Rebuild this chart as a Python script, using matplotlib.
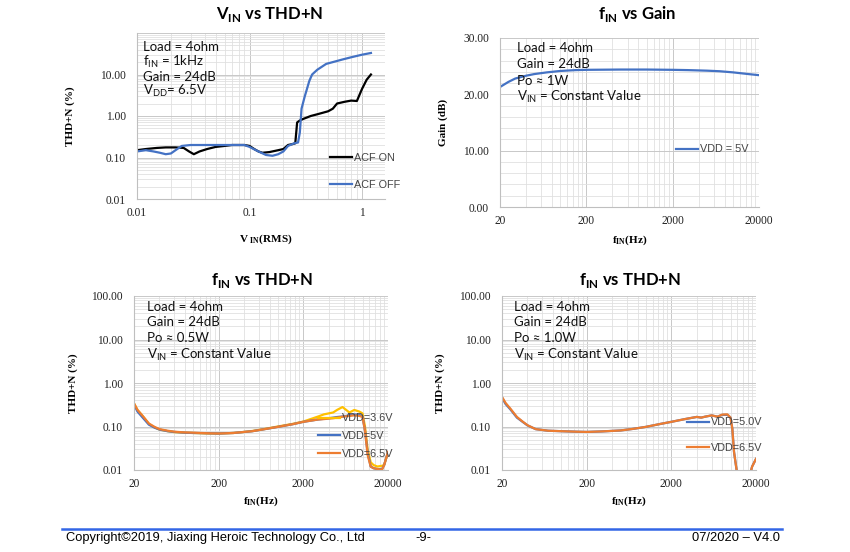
import numpy as np
import matplotlib.pyplot as plt
import matplotlib as mpl
from matplotlib.ticker import FixedLocator, FuncFormatter, MultipleLocator, NullFormatter

mpl.rcParams['mathtext.fontset'] = 'custom'
mpl.rcParams['mathtext.rm'] = 'Lato'
mpl.rcParams['mathtext.bf'] = 'Lato:bold'
mpl.rcParams['mathtext.sf'] = 'Liberation Serif:bold'

#panel 1 : VIN vs THD+N
vin_on = [0.01, 0.012, 0.015, 0.018, 0.022, 0.026, 0.029, 0.032, 0.036, 0.042, 0.05, 0.06,
          0.07, 0.08, 0.09, 0.1, 0.11, 0.12, 0.13, 0.15, 0.18, 0.2, 0.22, 0.24, 0.255,
          0.265, 0.28, 0.3, 0.35, 0.4, 0.5, 0.55, 0.6, 0.7, 0.8, 0.9, 1.0, 1.1, 1.2]
thd_on = [0.15, 0.16, 0.17, 0.175, 0.175, 0.17, 0.14, 0.12, 0.14, 0.16, 0.18, 0.19,
          0.2, 0.2, 0.2, 0.19, 0.16, 0.14, 0.13, 0.135, 0.15, 0.16, 0.2, 0.21, 0.22,
          0.7, 0.78, 0.85, 1.0, 1.1, 1.3, 1.5, 2.0, 2.2, 2.35, 2.3, 4.5, 7.5, 10.0]
vin_off = [0.01, 0.012, 0.014, 0.016, 0.018, 0.02, 0.022, 0.025, 0.03, 0.04, 0.06, 0.09,
           0.1, 0.12, 0.14, 0.16, 0.18, 0.2, 0.22, 0.25, 0.27, 0.28, 0.29, 0.31, 0.32,
           0.34, 0.36, 0.4, 0.48, 0.67, 0.8, 1.0, 1.2]
thd_off = [0.14, 0.15, 0.14, 0.13, 0.12, 0.125, 0.15, 0.19, 0.2, 0.2, 0.2, 0.2,
           0.18, 0.14, 0.115, 0.11, 0.12, 0.14, 0.19, 0.22, 0.23, 0.4, 1.5, 3.0, 4.0,
           7.0, 10.0, 13.0, 18.0, 23.0, 26.0, 30.0, 33.0]

#panel 2 : fIN vs Gain
f_gain = [20, 25, 30, 40, 50, 70, 100, 150, 200, 500, 1000, 2000, 3000, 5000, 7000, 10000, 15000, 20000]
gain_5v = [21.3, 22.2, 22.8, 23.3, 23.6, 23.9, 24.15, 24.3, 24.35, 24.4, 24.4, 24.35, 24.3,
           24.2, 24.1, 23.9, 23.6, 23.4]

#panel 3 : fIN vs THD+N, Po 0.5W
f_p3 = [20, 22, 25, 30, 35, 40, 50, 60, 80, 100, 150, 200, 300, 400, 500, 700, 1000, 1500,
        2000, 3000, 3500, 4500, 5000, 5800, 7000, 8000, 9200, 10000, 10700, 11500, 12500,
        13500, 15000, 17000, 18000, 20000]
thd_p3_36 = [0.34, 0.24, 0.18, 0.115, 0.095, 0.085, 0.078, 0.074, 0.072, 0.071, 0.069, 0.069,
             0.071, 0.075, 0.079, 0.088, 0.1, 0.115, 0.13, 0.17, 0.19, 0.21, 0.24, 0.28, 0.21,
             0.24, 0.22, 0.2, 0.1, 0.03, 0.015, 0.013, 0.012, 0.0125, 0.013, 0.025]
thd_p3_5 = [0.32, 0.22, 0.165, 0.11, 0.094, 0.085, 0.078, 0.075, 0.072, 0.071, 0.07, 0.069,
            0.071, 0.075, 0.078, 0.087, 0.098, 0.113, 0.128, 0.145, 0.15, 0.16, 0.165, 0.17,
            0.18, 0.19, 0.185, 0.17, 0.08, 0.025, 0.012, 0.011, 0.0105, 0.0105, 0.013, 0.026]
thd_p3_65 = [0.34, 0.24, 0.18, 0.117, 0.098, 0.087, 0.08, 0.076, 0.073, 0.072, 0.07, 0.069,
             0.071, 0.075, 0.078, 0.087, 0.098, 0.113, 0.128, 0.145, 0.148, 0.155, 0.16, 0.168,
             0.175, 0.18, 0.175, 0.165, 0.08, 0.022, 0.012, 0.011, 0.0105, 0.0102, 0.013, 0.026]

#panel 4 : fIN vs THD+N, Po 1.0W
f_p4 = [20, 22, 25, 30, 35, 40, 50, 70, 100, 150, 200, 300, 500, 700, 1000, 1500, 2000, 3000,
        4000, 4500, 5000, 6000, 7000, 8000, 9200, 10000, 10500, 11000, 12000, 13000, 15000,
        16000, 17000, 18000, 20000]
thd_p4_5 = [0.46, 0.33, 0.25, 0.16, 0.128, 0.106, 0.087, 0.08, 0.078, 0.076, 0.075, 0.077,
            0.081, 0.088, 0.098, 0.115, 0.128, 0.15, 0.166, 0.16, 0.168, 0.18, 0.168, 0.185,
            0.185, 0.16, 0.09, 0.026, 0.008, 0.006, 0.005, 0.006, 0.008, 0.012, 0.018]
thd_p4_65 = [0.48, 0.35, 0.26, 0.166, 0.13, 0.107, 0.087, 0.08, 0.078, 0.076, 0.075, 0.077,
             0.081, 0.088, 0.098, 0.115, 0.128, 0.15, 0.166, 0.16, 0.168, 0.18, 0.168, 0.188,
             0.19, 0.16, 0.09, 0.026, 0.008, 0.006, 0.005, 0.006, 0.008, 0.012, 0.018]

f_ticks = [20, 200, 2000, 20000]
thd_ticks = [0.01, 0.1, 1, 10, 100]

BLUE = '#4472C4'
ORANGE = '#ED7D31'
YELLOW = '#FFC000'
MAJ = '#c8c8c8'
MIN = '#e0e0e0'
SERIF = 'Liberation Serif'
SANS = 'Liberation Sans'

fig = plt.figure(figsize=(8.5, 5.52), dpi=100)


def style(ax):
    for s in ['top', 'right']:
        ax.spines[s].set_visible(False)
    for s in ['left', 'bottom']:
        ax.spines[s].set_color('#bfbfbf')
        ax.spines[s].set_linewidth(0.8)
    ax.grid(True, which='major', color=MAJ, lw=0.7)
    ax.grid(True, which='minor', color=MIN, lw=0.6)
    ax.set_axisbelow(True)
    ax.tick_params(which='both', length=0, labelsize=8.3, colors='#222222')
    ax.tick_params(axis='y', pad=8)
    ax.tick_params(axis='x', pad=6)
    for lab in ax.get_xticklabels() + ax.get_yticklabels():
        lab.set_fontfamily(SERIF)


def freq_axis(ax):
    ax.set_xscale('log')
    ax.set_xlim(20, 20000)
    ax.xaxis.set_major_locator(FixedLocator(f_ticks))
    ax.xaxis.set_major_formatter(FuncFormatter(lambda v, p: '%d' % round(v)))
    minors = [f * n for f in f_ticks[:-1] for n in range(2, 10)]
    ax.xaxis.set_minor_locator(FixedLocator(minors))
    ax.xaxis.set_minor_formatter(NullFormatter())


def thd_axis(ax, labels):
    ax.set_yscale('log')
    ax.set_ylim(0.01, 100)
    ax.yaxis.set_major_locator(FixedLocator(thd_ticks))
    ax.yaxis.set_major_formatter(FuncFormatter(lambda v, p: ('%.2f' % v) if v in labels else ''))
    minors = [d * n for d in thd_ticks[:-1] for n in range(2, 10)]
    ax.yaxis.set_minor_locator(FixedLocator(minors))
    ax.yaxis.set_minor_formatter(NullFormatter())


def notes(ax, lines, x, ys):
    for t, y in zip(lines, ys):
        ax.text(x, y, t, transform=ax.transAxes, fontsize=9.5, family='Lato',
                va='center', ha='left', color='#111111', zorder=5)


def legend(ax, x, y, spacing):
    lg = ax.legend(loc='upper left', bbox_to_anchor=(x, y), frameon=False, borderpad=0,
                   borderaxespad=0, handlelength=2.0, handletextpad=0.2,
                   labelspacing=spacing, prop={'family': SANS, 'size': 7.8})
    for t in lg.get_texts():
        t.set_color('#444444')
    return lg


def labels(ax, xl, yl, xlx, xly, ylx):
    ax.set_xlabel(xl, family=SERIF, weight='bold', fontsize=8)
    ax.set_ylabel(yl, family=SERIF, weight='bold', fontsize=8)
    ax.xaxis.set_label_coords(xlx, xly)
    ax.yaxis.set_label_coords(ylx, 0.5)


# ---- panel 1
ax1 = fig.add_axes([137/850, 1-199/552, 248/850, 166/552])
ax1.plot(vin_on, thd_on, color='black', lw=1.6, label='ACF ON')
ax1.plot(vin_off, thd_off, color=BLUE, lw=1.6, label='ACF OFF')
ax1.set_xscale('log')
ax1.set_xlim(0.01, 1.6)
ax1.xaxis.set_major_locator(FixedLocator([0.01, 0.1, 1]))
ax1.xaxis.set_major_formatter(FuncFormatter(lambda v, p: '%g' % v))
ax1.xaxis.set_minor_locator(FixedLocator([d * n for d in [0.01, 0.1, 1] for n in range(2, 10)]))
ax1.xaxis.set_minor_formatter(NullFormatter())
thd_axis(ax1, [0.01, 0.1, 1, 10])
style(ax1)
legend(ax1, 0.778, 0.28, 1.6)
notes(ax1, ['Load = 4ohm', r'f$_{\mathrm{IN}}$ = 1kHz', 'Gain = 24dB', r'V$_{\mathrm{DD}}$= 6.5V'],
      0.025, [0.916, 0.825, 0.735, 0.651])
labels(ax1, r'V $_{\mathsf{IN}}$(RMS)', 'THD+N (%)', 0.52, -0.2, -0.25)

# ---- panel 2
ax2 = fig.add_axes([500/850, 1-207/552, 259/850, 169/552])
ax2.plot(f_gain, gain_5v, color=BLUE, lw=1.6, label='VDD = 5V')
freq_axis(ax2)
ax2.set_ylim(0, 30)
ax2.yaxis.set_major_locator(MultipleLocator(10))
ax2.yaxis.set_minor_locator(MultipleLocator(2))
ax2.yaxis.set_major_formatter(FuncFormatter(lambda v, p: '%.2f' % v))
style(ax2)
legend(ax2, 0.68, 0.37, 1.0)
notes(ax2, ['Load = 4ohm', 'Gain = 24dB', 'Po ≈ 1W', r'V$_{\mathrm{IN}}$ = Constant Value'],
      0.066, [0.94, 0.846, 0.746, 0.65])
labels(ax2, r'f$_{\mathsf{IN}}$(Hz)', 'Gain (dB)', 0.5, -0.154, -0.2)

# ---- panel 3
ax3 = fig.add_axes([134/850, 1-470/552, 254/850, 174/552])
ax3.plot(f_p3, thd_p3_36, color=YELLOW, lw=1.6, label='VDD=3.6V')
ax3.plot(f_p3, thd_p3_5, color=BLUE, lw=1.6, label='VDD=5V')
ax3.plot(f_p3, thd_p3_65, color=ORANGE, lw=1.6, label='VDD=6.5V')
freq_axis(ax3)
thd_axis(ax3, thd_ticks)
style(ax3)
legend(ax3, 0.724, 0.325, 0.7)
notes(ax3, ['Load = 4ohm', 'Gain = 24dB', 'Po ≈ 0.5W', r'V$_{\mathrm{IN}}$ = Constant Value'],
      0.051, [0.937, 0.851, 0.759, 0.661])
labels(ax3, r'f$_{\mathsf{IN}}$(Hz)', 'THD+N (%)', 0.5, -0.138, -0.22)

# ---- panel 4
ax4 = fig.add_axes([502/850, 1-470/552, 254/850, 174/552])
ax4.plot(f_p4, thd_p4_5, color=BLUE, lw=1.6, label='VDD=5.0V')
ax4.plot(f_p4, thd_p4_65, color=ORANGE, lw=1.6, label='VDD=6.5V')
freq_axis(ax4)
thd_axis(ax4, thd_ticks)
style(ax4)
legend(ax4, 0.728, 0.302, 1.45)
notes(ax4, ['Load = 4ohm', 'Gain = 24dB', 'Po ≈ 1.0W', r'V$_{\mathrm{IN}}$ = Constant Value'],
      0.047, [0.937, 0.851, 0.759, 0.661])
labels(ax4, r'f$_{\mathsf{IN}}$(Hz)', 'THD+N (%)', 0.5, -0.138, -0.224)

#titles
for x, y, t in [(270, 14, r'V$_{\mathbf{IN}}$ vs THD+N'), (637, 14, r'f$_{\mathbf{IN}}$ vs Gain'),
                (262, 281, r'f$_{\mathbf{IN}}$ vs THD+N'), (630, 281, r'f$_{\mathbf{IN}}$ vs THD+N')]:
    fig.text(x/850, 1-y/552, t, ha='center', va='center', family='Lato', weight='bold', fontsize=12)

#footer
fig.add_artist(plt.Line2D([62/850, 782/850], [1-529/552, 1-529/552], color='#3366E6', lw=1.8))
ff = ['Liberation Sans Narrow', 'Liberation Sans']
fig.text(66/850, 1-538/552, 'Copyright©2019, Jiaxing Heroic Technology Co., Ltd', family=ff, fontsize=9.3, va='center')
fig.text(423/850, 1-538/552, '-9-', family=ff, fontsize=9.3, va='center', ha='center')
fig.text(780/850, 1-538/552, '07/2020 – V4.0', family=ff, fontsize=9.3, va='center', ha='right')

fig.savefig('out.png', dpi=100)
